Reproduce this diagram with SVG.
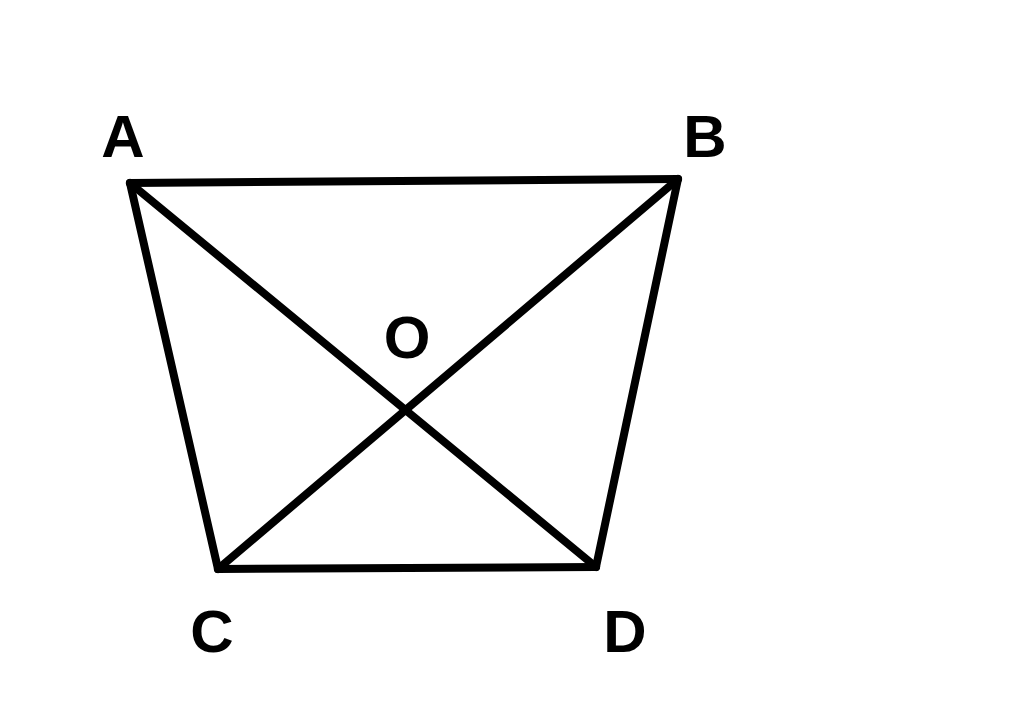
<svg xmlns="http://www.w3.org/2000/svg" width="1024" height="725" viewBox="0 0 1024 725">
<style>
.edge{stroke:#000;stroke-width:8;stroke-linecap:round;fill:none}
.lbl{font-family:"Liberation Sans",Arial,sans-serif;font-weight:bold;font-size:60px;fill:#000;text-anchor:middle}
</style>
<rect width="1024" height="725" fill="#fff"/>
<g id="connectors">
<line class="edge" x1="130" y1="183" x2="678" y2="179"/>
<line class="edge" x1="130" y1="183" x2="218" y2="569"/>
<line class="edge" x1="678" y1="179" x2="596" y2="567"/>
<line class="edge" x1="218" y1="569" x2="596" y2="567"/>
<line class="edge" x1="130" y1="183" x2="596" y2="567"/>
<line class="edge" x1="678" y1="179" x2="218" y2="569"/>
</g>
<g id="A"><text class="lbl" x="123" y="157">A</text></g>
<g id="B"><text class="lbl" x="705" y="157">B</text></g>
<g id="O"><text class="lbl" x="407" y="358">O</text></g>
<g id="C"><text class="lbl" x="212" y="652">C</text></g>
<g id="D"><text class="lbl" x="625" y="652">D</text></g>
</svg>
